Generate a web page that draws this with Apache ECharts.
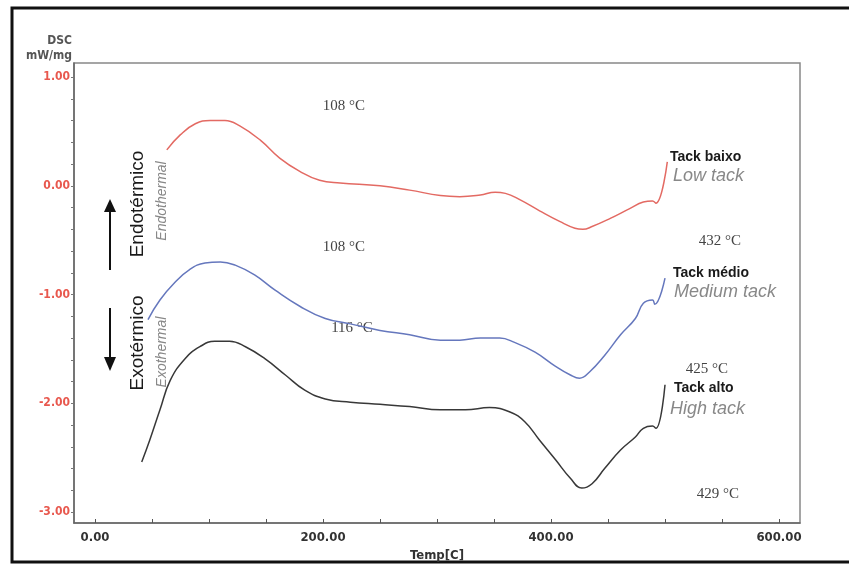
<!DOCTYPE html>
<html><head><meta charset="utf-8">
<script src="https://cdn.jsdelivr.net/npm/echarts@6/dist/echarts.min.js"></script>
<style>html,body{margin:0;padding:0;background:#fff}#c{width:849px;height:565px}</style>
</head><body><div id="c"></div>
<script>
// ---- data ----
const lowTackTemp = [63, 75, 88, 101, 114, 127, 145, 162, 180, 197, 215, 250, 276, 303, 320, 338, 351, 360, 373, 390, 408, 421, 428, 436, 452, 469, 481, 489, 492, 502];
const lowTackDsc  = [0.33, 0.47, 0.57, 0.60, 0.60, 0.55, 0.42, 0.255, 0.13, 0.05, 0.025, 0.00, -0.04, -0.09, -0.10, -0.085, -0.06, -0.07, -0.13, -0.23, -0.33, -0.39, -0.40, -0.375, -0.30, -0.21, -0.15, -0.14, -0.16, 0.22];

const mediumTackTemp = [46.5, 57, 70, 83, 96.5, 110, 123, 140, 158, 180, 202, 224, 250, 276, 303, 320, 338, 355, 368, 386, 404, 417, 425, 434, 447, 461, 474, 481, 489, 491, 500];
const mediumTackDsc  = [-1.23, -1.05, -0.89, -0.77, -0.71, -0.70, -0.73, -0.82, -0.96, -1.11, -1.22, -1.27, -1.33, -1.37, -1.42, -1.42, -1.40, -1.40, -1.44, -1.53, -1.66, -1.74, -1.77, -1.71, -1.56, -1.37, -1.22, -1.08, -1.05, -1.09, -0.85];

const highTackTemp = [41, 48, 57, 66, 79, 92, 105, 118, 132, 149, 167, 184, 202, 224, 250, 276, 303, 325, 346, 364, 377, 390, 404, 417, 427, 436, 447, 461, 474, 481, 489, 492, 500];
const highTackDsc  = [-2.54, -2.34, -2.06, -1.79, -1.59, -1.48, -1.43, -1.43, -1.48, -1.59, -1.74, -1.88, -1.96, -1.99, -2.01, -2.03, -2.06, -2.06, -2.04, -2.08, -2.17, -2.34, -2.52, -2.69, -2.78, -2.74, -2.60, -2.43, -2.31, -2.23, -2.21, -2.23, -1.83];

const xTickLabels = [0, 200, 400, 600];
const xMinorTicks = [0, 50, 100, 150, 200, 250, 300, 350, 400, 450, 500, 550, 600];
const yTickLabels = [-3, -2, -1, 0, 1];
const yMinorTicks = [-3, -2.8, -2.6, -2.4, -2.2, -2, -1.8, -1.6, -1.4, -1.2, -1, -0.8, -0.6, -0.4, -0.2, 0, 0.2, 0.4, 0.6, 0.8, 1];

const peakLabels = ['108 °C', '108 °C', '116 °C'];
const minLabels = ['432 °C', '425 °C', '429 °C'];
const seriesNamesPt = ['Tack baixo', 'Tack médio', 'Tack alto'];
const seriesNamesEn = ['Low tack', 'Medium tack', 'High tack'];

const zip = (a, b) => a.map((v, i) => [v, b[i]]);

const chart = echarts.init(document.getElementById('c'), null, {renderer: 'canvas'});
const sans = 'Liberation Sans, Arial, sans-serif';
const cond = 'DejaVu Sans Condensed, Liberation Sans, sans-serif';
const serif = 'Liberation Serif, Times New Roman, serif';

function txt(text, x, y, opt) {
  return {type: 'text', x: x, y: y, silent: true, rotation: opt.rot || 0,
    style: {text: text, fontFamily: opt.family || sans, fontSize: opt.size || 12,
      fontWeight: opt.weight || 'normal', fontStyle: opt.italic ? 'italic' : 'normal',
      fill: opt.color || '#222', align: opt.align || 'left', verticalAlign: 'middle'}};
}

const graphics = [
  {type: 'rect', shape: {x: 12, y: 8, width: 850, height: 554}, style: {fill: 'none', stroke: '#111', lineWidth: 3}, silent: true},
  txt('DSC', 72, 41, {size: 12, weight: 'bold', color: '#555', align: 'right', family: cond}),
  txt('mW/mg', 72, 56, {size: 12, weight: 'bold', color: '#555', align: 'right', family: cond}),
  // arrows
  {type: 'line', shape: {x1: 110, y1: 270, x2: 110, y2: 210}, style: {stroke: '#111', lineWidth: 2}, silent: true},
  {type: 'polygon', shape: {points: [[104, 212], [116, 212], [110, 199]]}, style: {fill: '#111'}, silent: true},
  {type: 'line', shape: {x1: 110, y1: 308, x2: 110, y2: 360}, style: {stroke: '#111', lineWidth: 2}, silent: true},
  {type: 'polygon', shape: {points: [[104, 357], [116, 357], [110, 371]]}, style: {fill: '#111'}, silent: true},
  // rotated labels
  txt('Endotérmico', 138, 204, {size: 19, color: '#1a1a1a', align: 'center', rot: Math.PI / 2}),
  txt('Endothermal', 162, 201, {size: 14, color: '#888', italic: true, align: 'center', rot: Math.PI / 2}),
  txt('Exotérmico', 138, 343, {size: 19, color: '#1a1a1a', align: 'center', rot: Math.PI / 2}),
  txt('Exothermal', 162, 352, {size: 14, color: '#888', italic: true, align: 'center', rot: Math.PI / 2}),
  // series names
  txt(seriesNamesPt[0], 670, 157, {size: 14, weight: 'bold', color: '#1a1a1a'}),
  txt(seriesNamesEn[0], 673, 176, {size: 18, italic: true, color: '#888'}),
  txt(seriesNamesPt[1], 673, 273, {size: 14, weight: 'bold', color: '#1a1a1a'}),
  txt(seriesNamesEn[1], 674, 292, {size: 18, italic: true, color: '#888'}),
  txt(seriesNamesPt[2], 674, 388, {size: 14, weight: 'bold', color: '#1a1a1a'}),
  txt(seriesNamesEn[2], 670, 409, {size: 18, italic: true, color: '#888'}),
  // temperature annotations
  txt(peakLabels[0], 344, 106, {size: 15, family: serif, color: '#444', align: 'center'}),
  txt(peakLabels[1], 344, 247, {size: 15, family: serif, color: '#444', align: 'center'}),
  txt(peakLabels[2], 352, 328, {size: 15, family: serif, color: '#444', align: 'center'}),
  txt(minLabels[0], 720, 241, {size: 15, family: serif, color: '#444', align: 'center'}),
  txt(minLabels[1], 707, 369, {size: 15, family: serif, color: '#444', align: 'center'}),
  txt(minLabels[2], 718, 494, {size: 15, family: serif, color: '#444', align: 'center'})
];

const lineSeries = (name, t, d, color) => ({
  name: name, type: 'line', data: zip(t, d), showSymbol: false, symbol: 'none',
  smooth: 0.45, lineStyle: {color: color, width: 1.5}, z: 3, animation: false
});

chart.setOption({
  animation: false,
  backgroundColor: '#fff',
  grid: {left: 74, right: 49, top: 63, bottom: 42, show: true, borderColor: '#888', borderWidth: 1.5, outerBoundsMode: 'none', containLabel: false},
  xAxis: {
    type: 'value', min: -18.4, max: 618.4,
    name: 'Temp[C]', nameLocation: 'middle', nameGap: 25,
    nameTextStyle: {fontFamily: cond, fontSize: 13, fontWeight: 'bold', color: '#333'},
    axisLine: {show: true, onZero: false, lineStyle: {color: '#666', width: 1.5}},
    axisTick: {show: true, inside: true, length: 4, customValues: xMinorTicks, lineStyle: {color: '#555'}},
    axisLabel: {customValues: xTickLabels, formatter: v => v.toFixed(2), margin: 8,
      fontFamily: cond, fontSize: 13, fontWeight: 'bold', color: '#333'},
    splitLine: {show: false}
  },
  yAxis: {
    type: 'value', min: -3.101, max: 1.129,
    axisLine: {show: true, onZero: false, lineStyle: {color: '#666', width: 1.5}},
    axisTick: {show: true, inside: false, length: 3, customValues: yMinorTicks, lineStyle: {color: '#777'}},
    axisLabel: {customValues: yTickLabels, formatter: v => v.toFixed(2), margin: 4,
      fontFamily: cond, fontSize: 12, fontWeight: 'bold', color: '#e8584e'},
    splitLine: {show: false}
  },
  series: [
    lineSeries(seriesNamesEn[0], lowTackTemp, lowTackDsc, '#e36a63'),
    lineSeries(seriesNamesEn[1], mediumTackTemp, mediumTackDsc, '#6577bd'),
    lineSeries(seriesNamesEn[2], highTackTemp, highTackDsc, '#383838')
  ],
  graphic: graphics
});
</script>
</body></html>
